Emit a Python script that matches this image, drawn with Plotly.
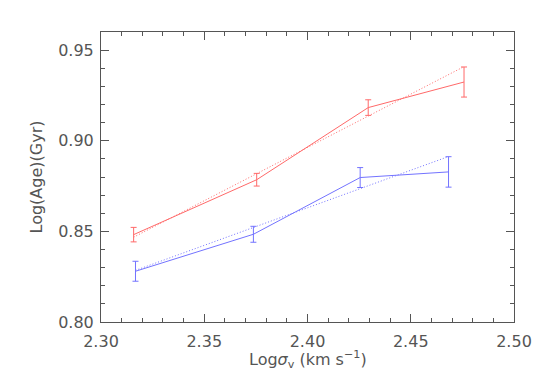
import plotly.graph_objects as go

# red sample
red_x = [2.3158, 2.3754, 2.4294, 2.4758]
red_y = [0.8482, 0.8785, 0.9183, 0.9324]
red_err = [0.0040, 0.0035, 0.0043, 0.0083]
red_fit = [0.8468, 0.8820, 0.9138, 0.9409]

# blue sample
blue_x = [2.3167, 2.3738, 2.4255, 2.4683]
blue_y = [0.8280, 0.8484, 0.8797, 0.8828]
blue_err = [0.0055, 0.0044, 0.0055, 0.0084]
blue_fit = [0.8285, 0.8521, 0.8735, 0.8913]

red = "rgb(255,105,105)"
blue = "rgb(115,115,255)"
axcol = "#555555"
font = dict(family="DejaVu Sans", size=16, color="#555555")

fig = go.Figure()
for xs, ys, es, fit, col in [(red_x, red_y, red_err, red_fit, red),
                             (blue_x, blue_y, blue_err, blue_fit, blue)]:
    fig.add_trace(go.Scatter(x=xs, y=fit, mode="lines",
                             line=dict(color=col, width=1, dash="1px,2px")))
    fig.add_trace(go.Scatter(x=xs, y=ys, mode="lines",
                             line=dict(color=col, width=1),
                             error_y=dict(type="data", array=es, color=col,
                                          thickness=1, width=3)))

axis = dict(showline=True, linecolor=axcol, linewidth=1, mirror="allticks",
            ticks="inside", ticklen=8, tickcolor=axcol, showgrid=False,
            zeroline=False, tickfont=font, automargin=False)

fig.update_xaxes(axis, range=[2.30, 2.50], dtick=0.05, tickformat=".2f",
                 minor=dict(ticks="inside", ticklen=4, dtick=0.01, tickcolor=axcol),
                 ticklabelstandoff=5)
fig.update_yaxes(axis, range=[0.80, 0.96], dtick=0.05, tickformat=".2f",
                 minor=dict(ticks="inside", ticklen=4, dtick=0.01, tickcolor=axcol),
                 ticklabelstandoff=3,
                 title=dict(text="Log(Age)(Gyr)", font=font, standoff=11))

# x title as an annotation so it can sit a little closer to the tick labels
fig.add_annotation(text="Log<i>σ</i><sub>v</sub> (km s<sup>−1</sup>)",
                   xref="paper", yref="paper", x=0.5, y=0,
                   yanchor="middle", yshift=-37, showarrow=False, font=font)

# page body adds an 8px offset, so the figure is sized to fit inside it
fig.update_layout(width=537, height=378, showlegend=False,
                  plot_bgcolor="white", paper_bgcolor="white",
                  margin=dict(l=93, r=31, t=24, b=64))

fig.write_html("out.html")
